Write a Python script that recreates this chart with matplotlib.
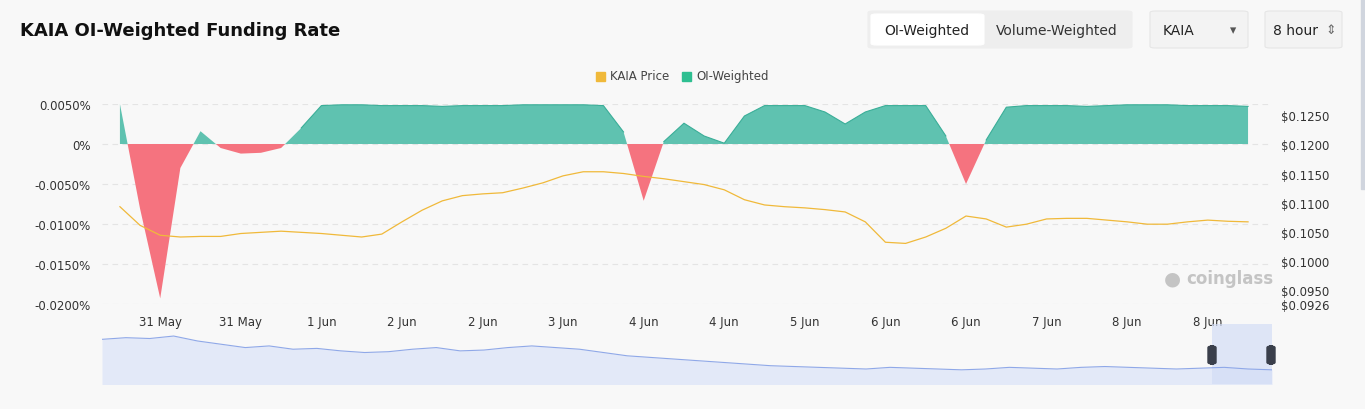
import matplotlib
matplotlib.use("Agg")
import matplotlib.pyplot as plt
from matplotlib.patches import FancyBboxPatch, Rectangle
import numpy as np

W, H = 1365, 410
tick_labels = ["31 May", "31 May", "1 Jun", "2 Jun", "2 Jun", "3 Jun", "4 Jun", "4 Jun",
               "5 Jun", "6 Jun", "6 Jun", "7 Jun", "8 Jun", "8 Jun"]
tick_index = [2, 6, 10, 14, 18, 22, 26, 30, 34, 38, 42, 46, 50, 54]

funding = [0.0050, -0.0081, -0.0193, -0.0030, 0.0016, -0.0005, -0.0012, -0.0011, -0.0005, 0.0020,
           0.0048, 0.0049, 0.0049, 0.0048, 0.0048, 0.0048, 0.0047, 0.0048, 0.0048, 0.0048,
           0.0049, 0.0049, 0.0049, 0.0049, 0.0048, 0.0015, -0.0071, 0.0003, 0.0026, 0.0010,
           0.0001, 0.0035, 0.0048, 0.0048, 0.0048, 0.0040, 0.0025, 0.0040, 0.0048, 0.0048,
           0.0048, 0.0010, -0.0050, 0.0005, 0.0046, 0.0048, 0.0048, 0.0048, 0.0047, 0.0048,
           0.0049, 0.0049, 0.0049, 0.0048, 0.0048, 0.0048, 0.0047]

price = [0.1093, 0.1061, 0.1044, 0.1041, 0.1042, 0.1042, 0.1047, 0.1049, 0.1051, 0.1049,
         0.1047, 0.1044, 0.1041, 0.1046, 0.1067, 0.1087, 0.1103, 0.1112, 0.1115, 0.1117,
         0.1125, 0.1134, 0.1146, 0.1153, 0.1153, 0.1150, 0.1145, 0.1141, 0.1136, 0.1131,
         0.1122, 0.1105, 0.1096, 0.1093, 0.1091, 0.1088, 0.1084, 0.1067, 0.1032, 0.1030,
         0.1041, 0.1056, 0.1077, 0.1072, 0.1058, 0.1063, 0.1072, 0.1073, 0.1073, 0.1070,
         0.1067, 0.1063, 0.1063, 0.1067, 0.1070, 0.1068, 0.1067]

nav_price = [0.98, 0.99, 0.985, 1.0, 0.97, 0.95, 0.93, 0.94, 0.92, 0.925, 0.91, 0.90, 0.905,
             0.92, 0.93, 0.91, 0.915, 0.93, 0.94, 0.93, 0.92, 0.90, 0.88, 0.87, 0.86, 0.85,
             0.84, 0.83, 0.82, 0.815, 0.81, 0.805, 0.80, 0.81, 0.805, 0.80, 0.795, 0.80, 0.81,
             0.805, 0.80, 0.81, 0.815, 0.81, 0.805, 0.80, 0.805, 0.81, 0.80, 0.795]

left_ticks = [0.005, 0, -0.005, -0.01, -0.015, -0.02]
left_labels = ["0.0050%", "0%", "-0.0050%", "-0.0100%", "-0.0150%", "-0.0200%"]
right_ticks = [0.1250, 0.1200, 0.1150, 0.1100, 0.1050, 0.1000, 0.0950, 0.0926]

BG = "#f8f8f8"
fig = plt.figure(figsize=(W/100, H/100), dpi=100, facecolor=BG)
plt.rcParams["font.family"] = "DejaVu Sans"

def ax_rect(x0, y0, x1, y1):
    return [x0/W, 1-y1/H, (x1-x0)/W, (y1-y0)/H]

x = np.arange(len(funding))
f = np.array(funding)
ax = fig.add_axes(ax_rect(102, 105, 1270, 305))
ax.set_facecolor(BG)
ax.fill_between(x, f, 0, where=f >= 0, interpolate=True, color="#5fc2b0", lw=0)
ax.fill_between(x, f, 0, where=f <= 0, interpolate=True, color="#f5737f", lw=0)
ax.plot(x, np.where(f >= 0, f, np.nan), color="#3aae98", lw=0.8)
ax.set_xlim(-0.89, 57.09)
ax.set_ylim(-0.02, 0.005)
ax.set_yticks(left_ticks)
ax.set_yticklabels(left_labels)
ax.set_xticks(tick_index)
ax.set_xticklabels(tick_labels)
for t in left_ticks:
    ax.axhline(t, color="#e4e4e4", lw=0.8, ls=(0, (5, 4)), zorder=0)
ax.tick_params(length=0, labelsize=8.5, colors="#333333", pad=8)
for s in ax.spines.values():
    s.set_visible(False)

ax2 = ax.twinx()
ax2.plot(x, price, color="#f0b93a", lw=0.9)
ax2.set_ylim(0.0926, 0.12693)
ax2.set_yticks(right_ticks)
ax2.set_yticklabels(["$%.4f" % v for v in right_ticks])
ax2.tick_params(length=0, labelsize=8.5, colors="#333333", pad=8)
for s in ax2.spines.values():
    s.set_visible(False)

# watermark
fig.text(1186/W, 1-279/H, "coinglass", fontsize=12, color="#c4c4c4", fontweight="bold", va="center")
fig.text(1172/W, 1-279/H, "●", fontsize=14, color="#c4c4c4", va="center", ha="center")

# navigator
axn = fig.add_axes(ax_rect(102, 325, 1272, 385))
axn.set_facecolor(BG)
xn = np.arange(len(nav_price))
axn.fill_between(xn, nav_price, 0, color="#e3e9f8", lw=0)
axn.plot(xn, nav_price, color="#8fa8e8", lw=0.8)
axn.set_xlim(0, len(nav_price)-1)
axn.set_ylim(0.709, 1.073)
axn.axis("off")
n = len(nav_price) - 1
axn.add_patch(Rectangle((n*(1212-102)/1170, 0.709), n*60/1170, 0.4, color="#d3ddf6", alpha=0.7, lw=0))
for hx in (1212, 1271):
    fig.patches.append(FancyBboxPatch(((hx-4)/W, 1-365/H), 8/W, 18/H, boxstyle="round,pad=0,rounding_size=0.004",
                                      transform=fig.transFigure, color="#3a3f4b"))

# title & controls
fig.text(20/W, 1-31/H, "KAIA OI-Weighted Funding Rate", fontsize=13, fontweight="bold", color="#111111", va="center")
def box(x0, y0, x1, y1, fc, ec="#e6e6e6"):
    fig.patches.append(FancyBboxPatch((x0/W, 1-y1/H), (x1-x0)/W, (y1-y0)/H,
                       boxstyle="round,pad=0,rounding_size=0.004", transform=fig.transFigure,
                       fc=fc, ec=ec, lw=0.8))
box(868, 12, 1132, 49, "#eeeeee", "#eeeeee")
box(871, 15, 984, 46, "white", "white")
fig.text(927/W, 1-31/H, "OI-Weighted", fontsize=10, ha="center", va="center", color="#222222")
fig.text(1057/W, 1-31/H, "Volume-Weighted", fontsize=10, ha="center", va="center", color="#333333")
box(1150, 12, 1248, 49, "#f3f3f3")
fig.text(1163/W, 1-31/H, "KAIA", fontsize=10, va="center", color="#222222")
fig.text(1230/W, 1-31/H, "▾", fontsize=9, va="center", color="#555555")
box(1265, 12, 1342, 49, "#f3f3f3")
fig.text(1273/W, 1-31/H, "8 hour", fontsize=10, va="center", color="#222222")
fig.text(1325/W, 1-31/H, "⇕", fontsize=9, va="center", color="#666666")

# legend
fig.patches.append(Rectangle((596/W, 1-82/H), 9/W, 9/H, transform=fig.transFigure, color="#f0b93a"))
fig.text(610/W, 1-77/H, "KAIA Price", fontsize=8.5, va="center", color="#444444")
fig.patches.append(Rectangle((682/W, 1-82/H), 9/W, 9/H, transform=fig.transFigure, color="#2ebf91"))
fig.text(696/W, 1-77/H, "OI-Weighted", fontsize=8.5, va="center", color="#444444")

# scrollbar
fig.patches.append(Rectangle((1361/W, 1-190/H), 4/W, 190/H, transform=fig.transFigure, color="#d0d5de"))

fig.savefig("out.png", dpi=100, facecolor=BG)
